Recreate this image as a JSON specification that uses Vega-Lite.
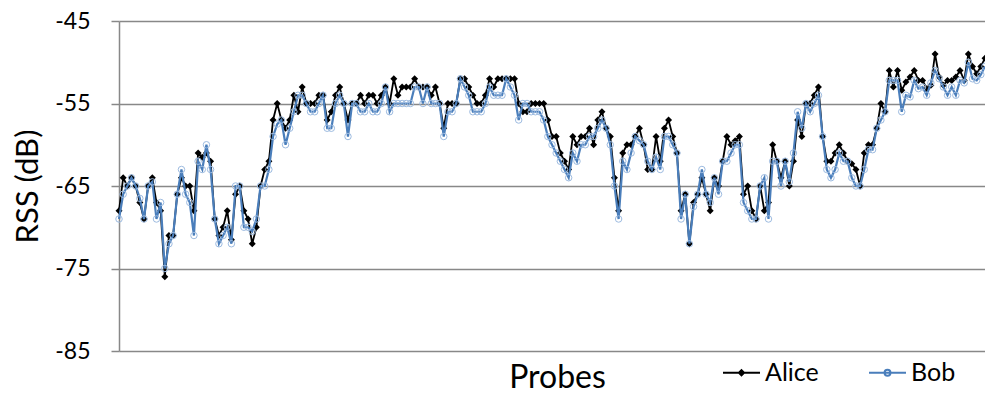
{
  "$schema": "https://vega.github.io/schema/vega-lite/v6.json",
  "width": 866,
  "height": 330,
  "autosize": {"type": "none"},
  "padding": {"left": 119, "top": 21, "right": 0, "bottom": 45},
  "background": "white",
  "config": {"view": {"stroke": null}, "font": "Lato"},
  "data": {"values": [
    {"probe":1,"Alice":-68,"Bob":-69},{"probe":2,"Alice":-64,"Bob":-66},{"probe":3,"Alice":-65,"Bob":-65},{"probe":4,"Alice":-64,"Bob":-64},{"probe":5,"Alice":-65,"Bob":-65},
    {"probe":6,"Alice":-67,"Bob":-66.5},{"probe":7,"Alice":-69,"Bob":-69},{"probe":8,"Alice":-65,"Bob":-65},{"probe":9,"Alice":-64,"Bob":-64.5},{"probe":10,"Alice":-67,"Bob":-69},
    {"probe":11,"Alice":-68,"Bob":-67},{"probe":12,"Alice":-76,"Bob":-75},{"probe":13,"Alice":-71,"Bob":-72},{"probe":14,"Alice":-71,"Bob":-71},{"probe":15,"Alice":-66,"Bob":-66},
    {"probe":16,"Alice":-64,"Bob":-63},{"probe":17,"Alice":-65,"Bob":-66},{"probe":18,"Alice":-65,"Bob":-67},{"probe":19,"Alice":-68,"Bob":-71},{"probe":20,"Alice":-61,"Bob":-62},
    {"probe":21,"Alice":-61.5,"Bob":-63},{"probe":22,"Alice":-61,"Bob":-60},{"probe":23,"Alice":-62,"Bob":-63},{"probe":24,"Alice":-69,"Bob":-69},{"probe":25,"Alice":-71,"Bob":-72},
    {"probe":26,"Alice":-70,"Bob":-71},{"probe":27,"Alice":-68,"Bob":-70},{"probe":28,"Alice":-71.5,"Bob":-72},{"probe":29,"Alice":-66,"Bob":-65},{"probe":30,"Alice":-65,"Bob":-65},
    {"probe":31,"Alice":-68,"Bob":-70},{"probe":32,"Alice":-69,"Bob":-70},{"probe":33,"Alice":-72,"Bob":-70.5},{"probe":34,"Alice":-70,"Bob":-69},{"probe":35,"Alice":-65,"Bob":-65},
    {"probe":36,"Alice":-63,"Bob":-65},{"probe":37,"Alice":-62,"Bob":-63},{"probe":38,"Alice":-57,"Bob":-59},{"probe":39,"Alice":-55,"Bob":-57.5},{"probe":40,"Alice":-57,"Bob":-57},
    {"probe":41,"Alice":-58,"Bob":-60},{"probe":42,"Alice":-57,"Bob":-58},{"probe":43,"Alice":-54,"Bob":-56},{"probe":44,"Alice":-56,"Bob":-54},{"probe":45,"Alice":-53,"Bob":-54},
    {"probe":46,"Alice":-55,"Bob":-55},{"probe":47,"Alice":-55,"Bob":-56},{"probe":48,"Alice":-55,"Bob":-56},{"probe":49,"Alice":-54,"Bob":-55},{"probe":50,"Alice":-54,"Bob":-54},
    {"probe":51,"Alice":-57,"Bob":-58},{"probe":52,"Alice":-56,"Bob":-58},{"probe":53,"Alice":-54,"Bob":-55},{"probe":54,"Alice":-53,"Bob":-54},{"probe":55,"Alice":-55,"Bob":-55},
    {"probe":56,"Alice":-57,"Bob":-59},{"probe":57,"Alice":-55,"Bob":-55},{"probe":58,"Alice":-55,"Bob":-55},{"probe":59,"Alice":-54,"Bob":-56},{"probe":60,"Alice":-55,"Bob":-56},
    {"probe":61,"Alice":-54,"Bob":-55},{"probe":62,"Alice":-54,"Bob":-56},{"probe":63,"Alice":-55,"Bob":-56},{"probe":64,"Alice":-54,"Bob":-55},{"probe":65,"Alice":-53,"Bob":-53},
    {"probe":66,"Alice":-55,"Bob":-56},{"probe":67,"Alice":-52,"Bob":-55},{"probe":68,"Alice":-54,"Bob":-55},{"probe":69,"Alice":-53,"Bob":-55},{"probe":70,"Alice":-53,"Bob":-55},
    {"probe":71,"Alice":-53,"Bob":-55},{"probe":72,"Alice":-52,"Bob":-53},{"probe":73,"Alice":-53,"Bob":-53},{"probe":74,"Alice":-53,"Bob":-55},{"probe":75,"Alice":-53,"Bob":-53},
    {"probe":76,"Alice":-54,"Bob":-55},{"probe":77,"Alice":-53,"Bob":-55},{"probe":78,"Alice":-55,"Bob":-55},{"probe":79,"Alice":-58,"Bob":-59},{"probe":80,"Alice":-55,"Bob":-56},
    {"probe":81,"Alice":-55,"Bob":-56},{"probe":82,"Alice":-55,"Bob":-55},{"probe":83,"Alice":-52,"Bob":-52},{"probe":84,"Alice":-52,"Bob":-53},{"probe":85,"Alice":-53,"Bob":-54},
    {"probe":86,"Alice":-54,"Bob":-56},{"probe":87,"Alice":-55,"Bob":-56},{"probe":88,"Alice":-55,"Bob":-56},{"probe":89,"Alice":-54,"Bob":-55},{"probe":90,"Alice":-52,"Bob":-53},
    {"probe":91,"Alice":-53,"Bob":-54},{"probe":92,"Alice":-52,"Bob":-54},{"probe":93,"Alice":-52,"Bob":-54},{"probe":94,"Alice":-52,"Bob":-52},{"probe":95,"Alice":-52,"Bob":-53},
    {"probe":96,"Alice":-52,"Bob":-54},{"probe":97,"Alice":-55,"Bob":-57},{"probe":98,"Alice":-56,"Bob":-55},{"probe":99,"Alice":-56,"Bob":-55},{"probe":100,"Alice":-55,"Bob":-56},
    {"probe":101,"Alice":-55,"Bob":-56},{"probe":102,"Alice":-55,"Bob":-56},{"probe":103,"Alice":-55,"Bob":-57},{"probe":104,"Alice":-57,"Bob":-59},{"probe":105,"Alice":-59,"Bob":-60},
    {"probe":106,"Alice":-59,"Bob":-61},{"probe":107,"Alice":-61,"Bob":-62},{"probe":108,"Alice":-62,"Bob":-63},{"probe":109,"Alice":-63,"Bob":-64},{"probe":110,"Alice":-59,"Bob":-61},
    {"probe":111,"Alice":-60,"Bob":-62},{"probe":112,"Alice":-59,"Bob":-60},{"probe":113,"Alice":-59,"Bob":-60},{"probe":114,"Alice":-58,"Bob":-59},{"probe":115,"Alice":-60,"Bob":-59},
    {"probe":116,"Alice":-57,"Bob":-58},{"probe":117,"Alice":-56,"Bob":-57},{"probe":118,"Alice":-58,"Bob":-58},{"probe":119,"Alice":-59,"Bob":-60},{"probe":120,"Alice":-64,"Bob":-65},
    {"probe":121,"Alice":-68,"Bob":-69},{"probe":122,"Alice":-61,"Bob":-62},{"probe":123,"Alice":-60,"Bob":-63},{"probe":124,"Alice":-60,"Bob":-61},{"probe":125,"Alice":-59,"Bob":-59},
    {"probe":126,"Alice":-58,"Bob":-59.5},{"probe":127,"Alice":-60,"Bob":-60},{"probe":128,"Alice":-63,"Bob":-62},{"probe":129,"Alice":-63,"Bob":-63},{"probe":130,"Alice":-59,"Bob":-61.5},
    {"probe":131,"Alice":-62,"Bob":-63},{"probe":132,"Alice":-58,"Bob":-59},{"probe":133,"Alice":-57,"Bob":-59},{"probe":134,"Alice":-59,"Bob":-60},{"probe":135,"Alice":-61,"Bob":-61},
    {"probe":136,"Alice":-68,"Bob":-69},{"probe":137,"Alice":-66,"Bob":-66},{"probe":138,"Alice":-72,"Bob":-72},{"probe":139,"Alice":-67,"Bob":-67.5},{"probe":140,"Alice":-66,"Bob":-66},
    {"probe":141,"Alice":-64,"Bob":-63},{"probe":142,"Alice":-66,"Bob":-66},{"probe":143,"Alice":-68,"Bob":-67},{"probe":144,"Alice":-64,"Bob":-64},{"probe":145,"Alice":-65,"Bob":-66},
    {"probe":146,"Alice":-62,"Bob":-62},{"probe":147,"Alice":-59,"Bob":-62},{"probe":148,"Alice":-60,"Bob":-61},{"probe":149,"Alice":-59.5,"Bob":-60},{"probe":150,"Alice":-59,"Bob":-60},
    {"probe":151,"Alice":-66,"Bob":-67},{"probe":152,"Alice":-65,"Bob":-68},{"probe":153,"Alice":-68,"Bob":-69},{"probe":154,"Alice":-69,"Bob":-69},{"probe":155,"Alice":-65,"Bob":-65},
    {"probe":156,"Alice":-68,"Bob":-64},{"probe":157,"Alice":-67,"Bob":-69},{"probe":158,"Alice":-60,"Bob":-62},{"probe":159,"Alice":-62,"Bob":-62},{"probe":160,"Alice":-64,"Bob":-65},
    {"probe":161,"Alice":-62,"Bob":-62},{"probe":162,"Alice":-65,"Bob":-64.5},{"probe":163,"Alice":-62,"Bob":-61},{"probe":164,"Alice":-57,"Bob":-56},{"probe":165,"Alice":-59,"Bob":-58},
    {"probe":166,"Alice":-55,"Bob":-55},{"probe":167,"Alice":-55,"Bob":-56},{"probe":168,"Alice":-54,"Bob":-55},{"probe":169,"Alice":-53,"Bob":-54},{"probe":170,"Alice":-59,"Bob":-59},
    {"probe":171,"Alice":-62,"Bob":-63},{"probe":172,"Alice":-62,"Bob":-64},{"probe":173,"Alice":-61,"Bob":-63},{"probe":174,"Alice":-60,"Bob":-61},{"probe":175,"Alice":-61,"Bob":-62},
    {"probe":176,"Alice":-62,"Bob":-62},{"probe":177,"Alice":-62.3,"Bob":-64},{"probe":178,"Alice":-63,"Bob":-65},{"probe":179,"Alice":-65,"Bob":-65},{"probe":180,"Alice":-61,"Bob":-63},
    {"probe":181,"Alice":-60,"Bob":-60.6},{"probe":182,"Alice":-60,"Bob":-60.6},{"probe":183,"Alice":-58,"Bob":-58},{"probe":184,"Alice":-55,"Bob":-57},{"probe":185,"Alice":-56,"Bob":-56},
    {"probe":186,"Alice":-51,"Bob":-52.2},{"probe":187,"Alice":-53,"Bob":-52.2},{"probe":188,"Alice":-51,"Bob":-52.2},{"probe":189,"Alice":-53.4,"Bob":-56},{"probe":190,"Alice":-52.4,"Bob":-54},
    {"probe":191,"Alice":-51.8,"Bob":-54.2},{"probe":192,"Alice":-51,"Bob":-52.2},{"probe":193,"Alice":-52.2,"Bob":-53.2},{"probe":194,"Alice":-52.2,"Bob":-53},{"probe":195,"Alice":-53.2,"Bob":-54},
    {"probe":196,"Alice":-52.8,"Bob":-52.5},{"probe":197,"Alice":-49,"Bob":-51},{"probe":198,"Alice":-51.8,"Bob":-52},{"probe":199,"Alice":-52.8,"Bob":-53},{"probe":200,"Alice":-52.2,"Bob":-54},
    {"probe":201,"Alice":-52.2,"Bob":-53},{"probe":202,"Alice":-51.8,"Bob":-54},{"probe":203,"Alice":-51,"Bob":-52.2},{"probe":204,"Alice":-52.2,"Bob":-52.5},{"probe":205,"Alice":-49,"Bob":-50},
    {"probe":206,"Alice":-50.5,"Bob":-52},{"probe":207,"Alice":-51.4,"Bob":-52.2},{"probe":208,"Alice":-50.5,"Bob":-51.5},{"probe":209,"Alice":-49.5,"Bob":-50.5}
  ]},
  "transform": [{"fold": ["Alice", "Bob"], "as": ["series", "rss"]}],
  "encoding": {
    "x": {
      "field": "probe", "type": "quantitative",
      "scale": {"domain": [1, 209], "nice": false, "zero": false},
      "axis": {
        "title": "Probes", "labels": false, "ticks": false, "domain": false, "grid": false,
        "titleFont": "Lato", "titleFontSize": 32, "titleFontWeight": "normal", "titleColor": "#000000",
        "titleX": 438, "titleY": 36, "titleBaseline": "alphabetic", "titleAlign": "center"
      }
    },
    "y": {
      "field": "rss", "type": "quantitative",
      "scale": {"domain": [-85, -45], "nice": false, "zero": false},
      "axis": {
        "title": "RSS (dB)", "values": [-85, -75, -65, -55, -45],
        "labelExpr": "'' + datum.value",
        "labelFont": "Lato", "labelFontSize": 23, "labelColor": "#000000", "labelPadding": 21,
        "tickSize": 8, "tickColor": "#888888", "tickWidth": 1.5,
        "domainColor": "#888888", "domainWidth": 1.5,
        "grid": true, "gridColor": "#888888", "gridWidth": 1.5,
        "titleFont": "Lato", "titleFontSize": 31, "titleFontWeight": "normal", "titleColor": "#000000",
        "titleAngle": -90, "titleX": -82, "titleY": 165, "titleBaseline": "alphabetic", "titleAlign": "center"
      }
    }
  },
  "layer": [
    {
      "transform": [{"filter": "datum.series === 'Alice'"}],
      "mark": {"type": "line", "strokeWidth": 1.8},
      "encoding": {
        "color": {
          "field": "series", "type": "nominal",
          "scale": {"domain": ["Alice", "Bob"], "range": ["#000000", "#4A7EBB"]},
          "legend": {
            "orient": "none", "legendX": 603, "legendY": 332, "direction": "horizontal",
            "title": null, "labelFont": "Lato", "labelFontSize": 25, "labelColor": "#000000",
            "symbolSize": 1369, "symbolStrokeWidth": 2, "symbolType": "M-1,0L1,0",
            "labelOffset": 4, "columnPadding": 46,
            "encode": {
              "symbols": {
                "update": {
                  "shape": {"signal": "datum.value === 'Alice' ? 'M-1,0L1,0M0,-0.14L0.14,0L0,0.14L-0.14,0Z' : 'M-1,0L1,0M-0.16,0A0.16,0.16 0 1,1 0.16,0A0.16,0.16 0 1,1 -0.16,0Z'"},
                  "fill": {"signal": "datum.value === 'Alice' ? '#000000' : '#ffffff'"}
                }
              }
            }
          }
        }
      }
    },
    {
      "transform": [{"filter": "datum.series === 'Alice'"}],
      "mark": {"type": "point", "shape": "diamond", "filled": true, "color": "#000000", "size": 49, "opacity": 1}
    },
    {
      "transform": [{"filter": "datum.series === 'Bob'"}],
      "mark": {"type": "line", "strokeWidth": 2.2},
      "encoding": {
        "color": {"field": "series", "type": "nominal", "scale": {"domain": ["Alice", "Bob"], "range": ["#000000", "#4A7EBB"]}}
      }
    },
    {
      "transform": [{"filter": "datum.series === 'Bob'"}],
      "mark": {"type": "point", "shape": "circle", "filled": false, "stroke": "#9DBBE0", "strokeWidth": 1, "size": 42, "opacity": 1}
    }
  ]
}
